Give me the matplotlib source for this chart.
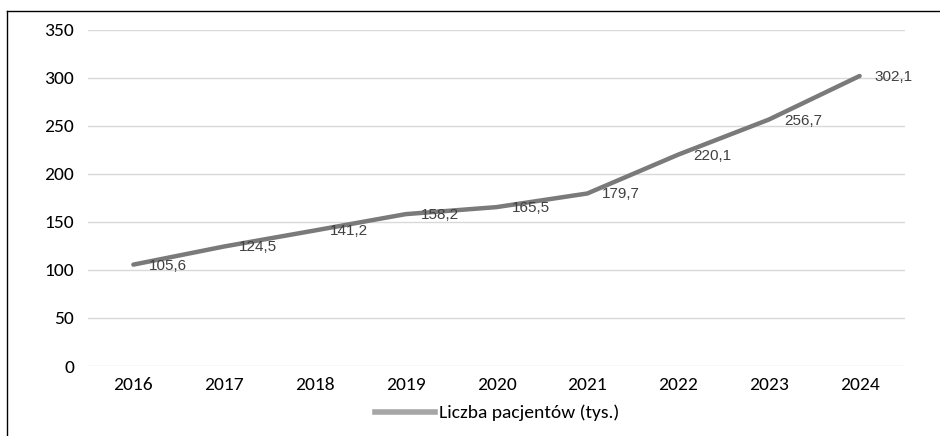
import matplotlib
matplotlib.use("Agg")
import matplotlib.pyplot as plt
from matplotlib.lines import Line2D
from matplotlib import font_manager

years = ["2016", "2017", "2018", "2019", "2020", "2021", "2022", "2023", "2024"]
values = [105.6, 124.5, 141.2, 158.2, 165.5, 179.7, 220.1, 256.7, 302.1]
yticks = [0, 50, 100, 150, 200, 250, 300, 350]
series_name = "Liczba pacjentów (tys.)"

names = {f.name for f in font_manager.fontManager.ttflist}
cands = ["Carlito", "Liberation Sans Narrow", "Roboto Condensed", "Open Sans Condensed", "Liberation Sans"]
tick_fam = next(c for c in cands if c in names) if any(c in names for c in cands) else "DejaVu Sans"
narrow = tick_fam != "Liberation Sans"
tick_font = [tick_fam, "DejaVu Sans"]
tick_size = 14 if narrow else 11
label_font = ["Liberation Sans", "DejaVu Sans"]

fig = plt.figure(figsize=(9.4, 4.36), dpi=100)
ax = fig.add_axes([88/940, 70/436, 817/940, 336/436])

x = list(range(len(years)))
ax.plot(x, values, color="#7a7a7a", lw=3.2, solid_capstyle="round", zorder=3)
for xi, v in zip(x, values):
    ax.annotate(f"{v:.1f}".replace(".", ","), (xi, v), xytext=(15, -1),
                textcoords="offset pixels", ha="left", va="center",
                fontsize=11, color="#404040", family=label_font, zorder=4)

ax.set_xlim(-0.5, len(years) - 0.5)
ax.set_ylim(0, 350)
ax.set_yticks(yticks)
ax.set_yticklabels([str(t) for t in yticks], family=tick_font, fontsize=tick_size)
ax.set_xticks(x)
ax.set_xticklabels(years, family=tick_font, fontsize=tick_size)
ax.tick_params(length=0, colors="black")
ax.tick_params(axis="y", pad=10)
ax.tick_params(axis="x", pad=8)
ax.grid(axis="y", color="#d9d9d9", lw=1)
ax.set_axisbelow(True)
for s in ax.spines.values():
    s.set_visible(False)

handle = Line2D([], [], color="#a6a6a6", lw=4)
fig.legend([handle], [series_name], loc="center", bbox_to_anchor=(497/940, 1 - 413/436),
           frameon=False, handlelength=3.1, handletextpad=0.2,
           prop={"family": tick_font, "size": tick_size})

# outer frame (left and top)
fig.add_artist(Line2D([7/940, 7/940], [0, 1 - 11/436], transform=fig.transFigure, color="black", lw=1))
fig.add_artist(Line2D([7/940, 1], [1 - 11/436, 1 - 11/436], transform=fig.transFigure, color="black", lw=1))

fig.savefig("out.png", dpi=100)
